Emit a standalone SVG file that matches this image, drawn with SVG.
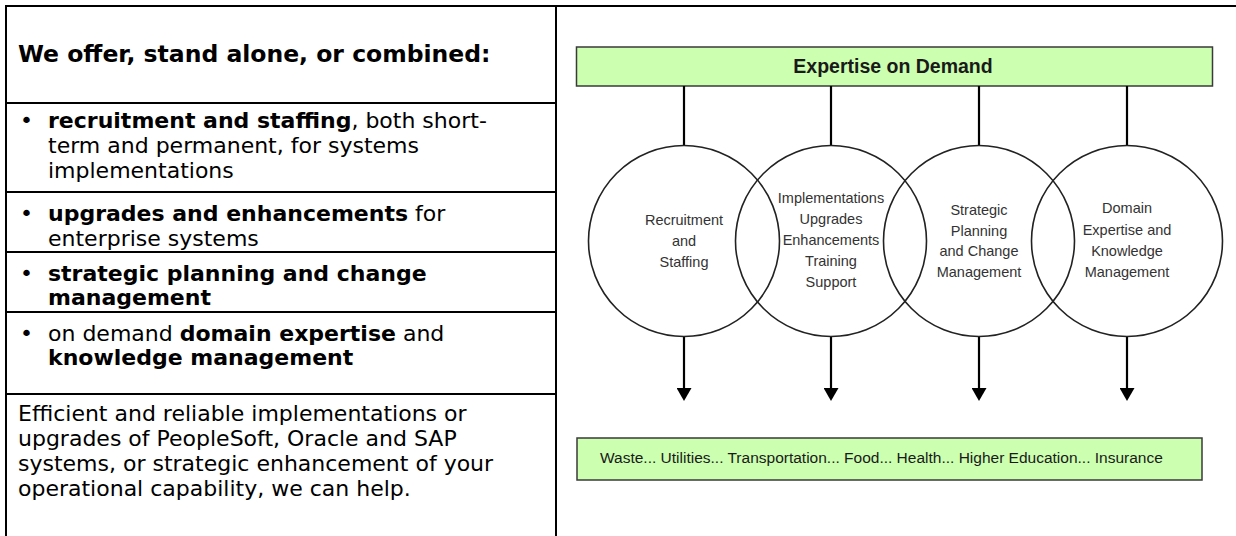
<svg xmlns="http://www.w3.org/2000/svg" width="1236" height="536" viewBox="0 0 1236 536">
<style>
.tbl{stroke:#000;stroke-width:2;fill:none}
.body{font-family:"DejaVu Sans",Verdana,sans-serif;font-size:22px;fill:#000}
.hdr{font-family:"DejaVu Sans",Verdana,sans-serif;font-size:23.5px;font-weight:bold;fill:#000}
.b{font-weight:bold}
.bar{fill:#ccffb0;stroke:#3a3a3a;stroke-width:1.5}
.bartxt{font-family:"Liberation Sans",Arial,sans-serif;fill:#1a1a1a}
.circ{fill:none;stroke:#222;stroke-width:1.6}
.ctxt{font-family:"Liberation Sans",Arial,sans-serif;font-size:14.5px;fill:#333;text-anchor:middle}
.conn{stroke:#000;stroke-width:2.2;fill:none}
</style>
<defs>
<marker id="ah" markerUnits="userSpaceOnUse" markerWidth="13" markerHeight="15" refX="0" refY="7.5" orient="auto" viewBox="0 0 13 15">
<path d="M0,0 L13,7.5 L0,15 z" fill="#000"/>
</marker>
</defs>
<rect width="1236" height="536" fill="#fff"/>
<g id="table">
<path class="tbl" d="M6,536 V6 H1236 M556,6 V536 M6,103 H556 M6,192 H556 M6,252 H556 M6,312 H556 M6,394 H556"/>
</g>
<g id="header">
<text class="hdr" x="18" y="62">We offer, stand alone, or combined:</text>
</g>
<g id="item1">
<text class="body" x="20" y="128">•</text>
<text class="body" x="48" y="128"><tspan class="b">recruitment and staffing</tspan>, both short-</text>
<text class="body" x="48" y="153">term and permanent, for systems</text>
<text class="body" x="48" y="178">implementations</text>
</g>
<g id="item2">
<text class="body" x="20" y="221">•</text>
<text class="body" x="48" y="221"><tspan class="b">upgrades and enhancements</tspan> for</text>
<text class="body" x="48" y="246">enterprise systems</text>
</g>
<g id="item3">
<text class="body" x="20" y="281">•</text>
<text class="body" x="48" y="281" font-weight="bold">strategic planning and change</text>
<text class="body" x="48" y="305" font-weight="bold">management</text>
</g>
<g id="item4">
<text class="body" x="20" y="341">•</text>
<text class="body" x="48" y="341">on demand <tspan class="b">domain expertise</tspan> and</text>
<text class="body" x="48" y="365" font-weight="bold">knowledge management</text>
</g>
<g id="summary">
<text class="body" x="18" y="421">Efficient and reliable implementations or</text>
<text class="body" x="18" y="446">upgrades of PeopleSoft, Oracle and SAP</text>
<text class="body" x="18" y="471">systems, or strategic enhancement of your</text>
<text class="body" x="18" y="496">operational capability, we can help.</text>
</g>
<g id="expertise">
<rect class="bar" x="576.5" y="47" width="636" height="39"/>
<text class="bartxt" x="893" y="73" font-size="19.5" font-weight="bold" text-anchor="middle">Expertise on Demand</text>
</g>
<g id="connectors">
<line class="conn" x1="684" y1="86" x2="684" y2="146"/>
<line class="conn" x1="831" y1="86" x2="831" y2="146"/>
<line class="conn" x1="979" y1="86" x2="979" y2="146"/>
<line class="conn" x1="1127" y1="86" x2="1127" y2="146"/>
<line class="conn" x1="684" y1="337" x2="684" y2="388" marker-end="url(#ah)"/>
<line class="conn" x1="831" y1="337" x2="831" y2="388" marker-end="url(#ah)"/>
<line class="conn" x1="979" y1="337" x2="979" y2="388" marker-end="url(#ah)"/>
<line class="conn" x1="1127" y1="337" x2="1127" y2="388" marker-end="url(#ah)"/>
</g>
<g id="recruitment">
<circle class="circ" cx="684" cy="241" r="95.5"/>
<text class="ctxt" x="684" y="225">Recruitment</text>
<text class="ctxt" x="684" y="246">and</text>
<text class="ctxt" x="684" y="267">Staffing</text>
</g>
<g id="implementations">
<circle class="circ" cx="831" cy="241" r="95.5"/>
<text class="ctxt" x="831" y="203">Implementations</text>
<text class="ctxt" x="831" y="224">Upgrades</text>
<text class="ctxt" x="831" y="245">Enhancements</text>
<text class="ctxt" x="831" y="266">Training</text>
<text class="ctxt" x="831" y="287">Support</text>
</g>
<g id="strategic">
<circle class="circ" cx="979" cy="241" r="95.5"/>
<text class="ctxt" x="979" y="215">Strategic</text>
<text class="ctxt" x="979" y="236">Planning</text>
<text class="ctxt" x="979" y="256">and Change</text>
<text class="ctxt" x="979" y="277">Management</text>
</g>
<g id="domain">
<circle class="circ" cx="1127" cy="241" r="95.5"/>
<text class="ctxt" x="1127" y="213">Domain</text>
<text class="ctxt" x="1127" y="235">Expertise and</text>
<text class="ctxt" x="1127" y="256">Knowledge</text>
<text class="ctxt" x="1127" y="277">Management</text>
</g>
<g id="industries">
<rect class="bar" x="577" y="438" width="625" height="42"/>
<text class="bartxt" x="600" y="463" font-size="15.5">Waste... Utilities... Transportation... Food... Health... Higher Education... Insurance</text>
</g>
</svg>
